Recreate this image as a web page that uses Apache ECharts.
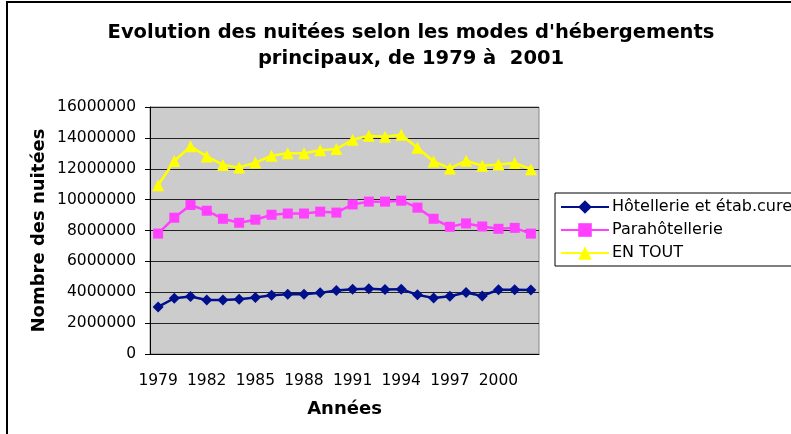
<!DOCTYPE html>
<html>
<head>
<meta charset="utf-8">
<script src="https://cdn.jsdelivr.net/npm/echarts@6/dist/echarts.min.js"></script>
<style>
  html, body { margin: 0; padding: 0; background: #fff; }
  #frame { position: absolute; left: 6px; top: 1px; width: 820px; height: 460px; border: 2px solid #000; box-sizing: border-box; }
  #main { position: absolute; left: 0; top: 0; width: 791px; height: 434px; }
</style>
</head>
<body>
<div id="frame"></div>
<div id="main"></div>
<script>
// données
const years = ['1979', '1980', '1981', '1982', '1983', '1984', '1985', '1986', '1987', '1988', '1989', '1990',
  '1991', '1992', '1993', '1994', '1995', '1996', '1997', '1998', '1999', '2000', '2001', '2002'];
const hotellerie = [3050000, 3610000, 3720000, 3500000, 3500000, 3550000, 3660000, 3810000, 3870000, 3870000, 3960000, 4120000,
  4200000, 4220000, 4180000, 4200000, 3830000, 3630000, 3740000, 3980000, 3760000, 4160000, 4160000, 4140000];
const parahotellerie = [7800000, 8830000, 9650000, 9280000, 8760000, 8500000, 8700000, 9020000, 9100000, 9100000, 9220000, 9160000,
  9690000, 9870000, 9870000, 9930000, 9480000, 8760000, 8240000, 8460000, 8260000, 8110000, 8170000, 7800000];
const enTout = [10930000, 12500000, 13450000, 12800000, 12250000, 12080000, 12400000, 12840000, 13000000, 13000000, 13200000, 13280000,
  13880000, 14140000, 14080000, 14200000, 13360000, 12470000, 12020000, 12520000, 12190000, 12280000, 12370000, 11970000];

const font = 'DejaVu Sans';

const chart = echarts.init(document.getElementById('main'));
chart.setOption({
  animation: false,
  title: {
    text: "Evolution des nuitées selon les modes d'hébergements\nprincipaux, de 1979 à  2001",
    left: 406,
    textAlign: 'center',
    top: 15,
    textStyle: { fontFamily: font, fontSize: 19.5, fontWeight: 'bold', color: '#000', lineHeight: 26 }
  },
  legend: {
    orient: 'vertical',
    left: 555,
    top: 193,
    padding: [6, 30, 5, 5],
    itemGap: 7,
    itemWidth: 48,
    itemHeight: 17,
    borderColor: '#000',
    borderWidth: 1,
    textStyle: { fontFamily: font, fontSize: 16, color: '#000', padding: [0, 0, 0, -2] },
    data: [
      { name: 'Hôtellerie et étab.cure', itemStyle: { borderWidth: 0 } },
      { name: 'Parahôtellerie' },
      { name: 'EN TOUT' }
    ]
  },
  grid: { left: 150, right: 252, top: 107, bottom: 80, show: true, backgroundColor: '#cccccc', borderColor: '#888', borderWidth: 1 },
  xAxis: {
    type: 'category',
    data: years,
    name: 'Années',
    nameLocation: 'middle',
    nameGap: 46,
    nameTextStyle: { fontFamily: font, fontSize: 18, fontWeight: 'bold', color: '#000' },
    axisLine: { lineStyle: { color: '#000' } },
    axisTick: { interval: 0, length: 5, lineStyle: { color: '#000' } },
    axisLabel: { interval: 2, fontFamily: font, fontSize: 15.5, color: '#000', margin: 19 }
  },
  yAxis: {
    type: 'value',
    min: 0,
    max: 16000000,
    interval: 2000000,
    name: 'Nombre des nuitées',
    nameLocation: 'middle',
    nameGap: 102,
    nameTextStyle: { fontFamily: font, fontSize: 18, fontWeight: 'bold', color: '#000' },
    axisLine: { show: true, lineStyle: { color: '#000' } },
    axisTick: { show: true, length: 5, lineStyle: { color: '#000' } },
    axisLabel: { fontFamily: font, fontSize: 15.5, color: '#000', margin: 14, formatter: v => String(v) },
    splitLine: { lineStyle: { color: '#222' } }
  },
  series: [
    {
      name: 'Hôtellerie et étab.cure', type: 'line', data: hotellerie,
      symbol: 'diamond', symbolSize: 11, showAllSymbol: true,
      itemStyle: { color: '#000f8c' }, lineStyle: { color: '#000f8c', width: 2.5 }
    },
    {
      name: 'Parahôtellerie', type: 'line', data: parahotellerie,
      symbol: 'rect', symbolSize: 10, showAllSymbol: true,
      itemStyle: { color: '#ff40ff' }, lineStyle: { color: '#ff40ff', width: 2.5 }
    },
    {
      name: 'EN TOUT', type: 'line', data: enTout,
      symbol: 'triangle', symbolSize: 12, showAllSymbol: true,
      itemStyle: { color: '#ffff00' }, lineStyle: { color: '#ffff00', width: 2.5 }
    }
  ]
});
</script>
</body>
</html>
